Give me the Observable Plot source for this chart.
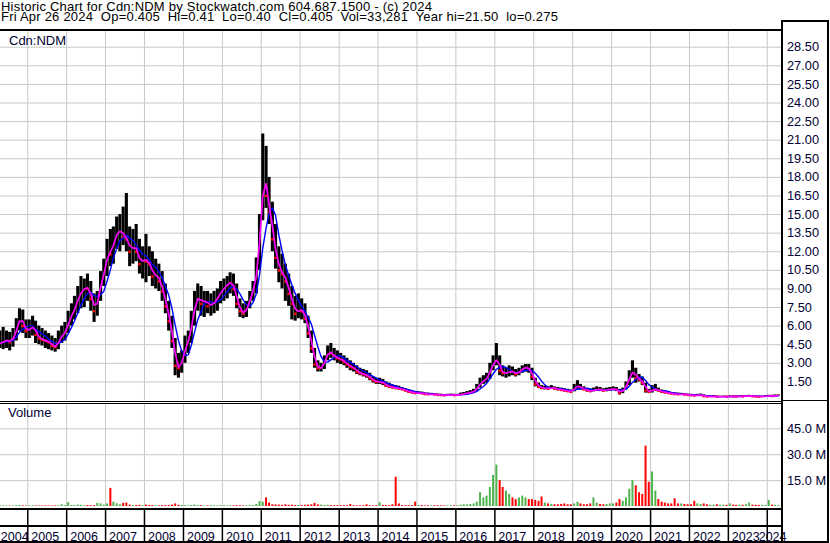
<!DOCTYPE html>
<html><head><meta charset="utf-8">
<script src="https://cdn.jsdelivr.net/npm/d3@7"></script>
<script src="https://cdn.jsdelivr.net/npm/@observablehq/plot@0.6"></script>
<style>
html,body{margin:0;padding:0;background:#fff;}
#c{position:relative;width:830px;height:543px;overflow:hidden;background:#fff;font-family:"Liberation Sans",Arial,sans-serif;}
.ln{position:absolute;background:#000;}
.t{position:absolute;white-space:pre;font-size:13px;line-height:10px;color:#000;}
#c svg{position:absolute;left:0;}
</style></head><body><div id="c"></div>
<script>
// ---- data (monthly, Apr 2004 .. Apr 2024) ----
const firstMonth = [2004, 3]; // Apr 2004 (month index 0-based)
const hi = [
 5.6,
 5.9,5.6,5.5,5.8,6.6,7.4,7.3,6.5,
 6.5,6.8,6.4,6.0,5.8,5.6,5.4,5.2,5.0,5.6,6.0,6.3,
 7.2,7.8,8.4,9.2,10.0,9.8,10.2,9.6,8.6,8.8,10.4,11.4,
 13.0,13.8,14.0,14.8,15.0,15.6,16.7,14.0,13.8,14.2,13.0,12.4,
 13.4,12.4,12.0,11.4,11.0,10.4,9.4,8.0,6.8,5.0,3.8,4.0,
 5.2,5.6,7.2,8.8,9.4,9.2,8.8,8.8,8.6,8.8,9.0,9.6,
 9.8,10.0,10.3,10.2,9.4,8.2,7.8,8.0,8.8,9.6,11.5,15.0,
 21.5,20.5,18.0,16.0,14.2,12.4,11.8,11.0,10.2,9.2,8.4,8.6,
 8.2,7.8,6.8,5.6,4.2,3.2,3.0,3.6,4.4,4.6,4.2,4.0,
 3.8,3.6,3.4,3.2,3.0,2.8,2.6,2.5,2.4,2.2,1.9,1.8,
 1.8,1.7,1.5,1.4,1.25,1.2,1.15,1.05,0.95,0.85,0.75,0.7,
 0.7,0.68,0.62,0.6,0.58,0.56,0.52,0.5,0.48,0.5,0.52,0.5,
 0.5,0.6,0.65,0.72,0.8,0.9,1.3,1.8,2.0,2.2,3.0,3.6,
 4.6,3.6,2.8,2.6,2.8,2.7,2.5,2.6,2.8,2.9,2.9,2.6,
 1.8,1.4,1.2,1.15,1.1,1.2,1.1,1.05,1.0,0.95,0.9,0.85,
 1.3,1.6,1.3,1.1,0.95,0.9,1.0,1.1,1.05,0.95,1.0,1.05,
 1.1,1.05,0.9,1.0,1.5,2.4,3.2,2.6,2.1,1.9,1.4,0.9,
 1.2,1.3,1.0,0.85,0.75,0.72,0.65,0.6,0.6,0.58,0.55,0.5,
 0.5,0.48,0.5,0.52,0.45,0.38,0.36,0.4,0.36,0.35,0.36,0.35,
 0.38,0.38,0.36,0.38,0.38,0.4,0.42,0.4,0.36,0.34,0.36,0.4,
 0.42,0.42,0.45,0.45
];
const lo = [
 4.2,
 4.1,4.2,4.0,4.3,4.8,5.6,5.4,5.0,
 5.0,5.2,4.6,4.5,4.4,4.2,4.1,4.0,3.9,4.1,4.6,4.8,
 5.4,6.0,6.5,7.0,7.4,7.5,8.0,7.2,6.3,6.8,8.0,9.2,
 10.0,10.8,11.0,12.2,12.0,12.5,12.0,10.8,11.0,11.2,10.2,9.8,
 9.5,10.0,9.2,9.0,8.8,8.0,7.0,5.6,4.2,2.0,1.8,2.2,
 3.0,3.8,4.6,6.0,7.2,6.8,6.7,7.0,6.8,7.0,7.2,7.8,
 8.0,8.2,8.6,8.4,7.4,6.7,6.6,6.7,7.4,8.0,8.6,10.5,
 14.5,15.5,14.2,12.0,10.6,9.5,9.0,8.0,7.6,6.5,6.4,6.6,
 6.5,6.2,5.0,3.8,2.6,2.3,2.3,2.5,3.2,3.4,3.2,3.0,
 2.9,2.8,2.6,2.4,2.3,2.1,2.0,1.9,1.8,1.6,1.4,1.3,
 1.3,1.2,1.1,1.0,0.95,0.9,0.85,0.8,0.7,0.6,0.55,0.5,
 0.5,0.5,0.45,0.45,0.42,0.42,0.4,0.38,0.36,0.36,0.38,0.37,
 0.36,0.4,0.45,0.5,0.55,0.6,0.75,1.0,1.3,1.4,1.7,2.4,
 2.8,2.0,1.9,1.8,1.9,2.0,1.9,2.0,2.2,2.3,2.2,1.6,
 1.1,1.0,0.9,0.85,0.85,0.9,0.85,0.8,0.75,0.7,0.65,0.6,
 0.7,0.9,0.85,0.8,0.7,0.65,0.7,0.75,0.75,0.7,0.7,0.75,
 0.8,0.75,0.45,0.55,0.85,1.2,1.8,1.4,1.5,1.2,0.6,0.6,
 0.6,0.75,0.7,0.6,0.55,0.55,0.5,0.48,0.45,0.45,0.42,0.4,
 0.38,0.36,0.36,0.38,0.3,0.28,0.28,0.3,0.28,0.28,0.28,0.28,
 0.29,0.3,0.29,0.3,0.3,0.3,0.32,0.3,0.29,0.275,0.28,0.3,
 0.32,0.33,0.33,0.36
];
const cl = [
 4.6,
 4.8,4.9,4.7,5.2,6.0,6.8,6.0,5.6,
 5.8,6.0,5.3,5.0,4.9,4.8,4.7,4.4,4.3,5.0,5.3,5.6,
 6.6,7.0,7.6,8.5,8.8,9.2,9.0,8.2,7.2,8.4,9.8,10.5,
 12.2,11.8,13.2,13.5,13.8,13.2,13.0,12.0,12.6,12.0,11.0,11.5,
 11.2,11.0,10.0,10.2,9.6,8.8,7.6,6.4,4.8,2.8,2.6,3.4,
 4.6,5.0,6.6,8.0,8.4,7.8,8.2,7.6,7.8,7.9,8.5,8.8,
 9.2,9.4,9.6,9.0,7.8,7.2,7.0,7.6,8.4,9.2,10.8,14.5,
 18.5,16.5,15.2,13.0,11.5,10.5,10.2,9.6,8.6,7.8,7.0,7.4,
 7.2,6.6,5.4,4.2,2.9,2.6,2.6,3.4,4.0,3.8,3.5,3.4,
 3.3,3.1,2.9,2.7,2.6,2.3,2.2,2.1,2.0,1.8,1.6,1.5,
 1.5,1.4,1.2,1.1,1.05,1.0,0.95,0.9,0.8,0.7,0.65,0.6,
 0.6,0.58,0.52,0.5,0.5,0.48,0.45,0.44,0.42,0.44,0.45,0.43,
 0.44,0.5,0.55,0.62,0.65,0.78,1.1,1.5,1.6,1.9,2.6,3.1,
 3.4,2.4,2.2,2.2,2.4,2.3,2.1,2.4,2.6,2.7,2.5,1.9,
 1.3,1.1,1.0,1.0,0.95,1.05,0.95,0.9,0.85,0.8,0.75,0.7,
 1.1,1.2,1.0,0.9,0.8,0.75,0.85,0.9,0.85,0.8,0.85,0.9,
 0.95,0.85,0.6,0.9,1.3,2.1,2.4,1.8,1.7,1.4,0.8,0.7,
 0.9,0.9,0.8,0.7,0.65,0.6,0.55,0.52,0.5,0.5,0.48,0.45,
 0.42,0.4,0.44,0.44,0.35,0.32,0.32,0.34,0.3,0.3,0.32,0.3,
 0.34,0.33,0.32,0.34,0.33,0.36,0.38,0.34,0.32,0.3,0.33,0.36,
 0.38,0.36,0.4,0.405
];
const vol = [ // millions
 0.4,
 0.4,0.3,0.3,0.3,0.5,0.6,0.4,0.3,
 0.4,0.5,0.3,0.3,0.3,0.4,0.3,0.3,0.4,0.5,1.0,0.5,
 2.2,0.6,0.5,0.8,0.7,0.5,0.6,0.5,0.5,1.8,1.5,0.8,
 1.5,10.5,2.5,1.6,1.0,1.8,2.0,0.8,0.6,0.6,0.7,0.5,
 0.8,0.6,0.6,0.5,0.4,0.5,0.5,0.6,0.8,1.5,0.7,0.6,
 0.5,0.4,0.6,0.8,0.6,0.5,0.4,0.4,0.5,0.4,0.4,0.5,
 0.4,0.4,0.5,0.4,0.5,0.4,0.4,0.4,0.5,0.6,1.2,2.8,
 2.5,5.0,2.0,1.0,0.9,0.8,0.7,1.0,0.7,0.8,0.6,0.6,
 0.6,0.7,0.8,1.0,1.8,0.9,0.8,0.6,0.7,0.6,0.5,0.5,
 0.5,0.5,0.5,1.2,0.5,0.4,0.4,0.5,1.0,0.5,0.4,0.4,
 2.2,0.6,0.6,0.5,1.0,17.0,1.5,0.6,0.5,0.5,0.5,2.5,
 0.6,0.5,0.4,0.4,0.4,0.5,0.4,0.4,0.4,0.4,0.5,0.4,
 0.5,0.8,1.0,0.9,1.2,1.5,2.5,8.0,5.0,6.0,11.0,18.0,
 24.0,15.0,11.0,9.0,7.0,5.0,4.0,5.0,6.0,5.0,4.0,4.0,
 3.5,3.0,5.5,2.0,1.5,1.2,1.0,1.0,1.2,1.5,1.0,1.0,
 1.5,2.5,1.5,1.0,1.0,1.5,5.0,2.0,1.2,1.0,1.2,1.5,
 1.5,2.0,4.0,3.0,5.0,10.0,15.0,12.0,8.0,7.0,35.0,14.0,
 20.0,9.0,4.0,2.5,2.0,1.5,1.5,4.5,1.5,1.5,1.2,1.0,
 1.0,3.0,1.5,1.2,1.5,1.0,0.8,0.8,1.0,0.8,0.8,0.7,
 1.5,0.8,0.7,0.8,0.7,1.0,2.0,0.8,0.7,0.6,0.7,0.6,
 3.5,0.8,0.7,0.6
];
const priceTicks = [1.5,3,4.5,6,7.5,9,10.5,12,13.5,15,16.5,18,19.5,21,22.5,24,25.5,27,28.5];
const volTicks = [15,30,45];
const yearLabels = ["2004","2005","2006","2007","2008","2009","2010","2011","2012","2013","2014","2015","2016","2017","2018","2019","2020","2021","2022","2023","2024"];
const headerLine1 = "Historic Chart for Cdn:NDM by Stockwatch.com 604.687.1500 - (c) 2024";
const headerLine2 = "Fri Apr 26 2024  Op=0.405  Hi=0.41  Lo=0.40  Cl=0.405  Vol=33,281  Year hi=21.50  lo=0.275";
const symbolLabel = "Cdn:NDM";
const volumeLabel = "Volume";

// ---- build ----
const data = hi.map((h, i) => ({
  date: new Date(Date.UTC(firstMonth[0], firstMonth[1] + i, 15)),
  hi: h, lo: lo[i], cl: cl[i], op: i ? cl[i - 1] : cl[0], vol: vol[i]
}));
const years = yearLabels.map(y => ({label: y, date: new Date(Date.UTC(+y, 0, 1))}));
const bounds = years.slice(1).map(d => d.date);
const x0 = new Date(Date.UTC(2004, 3, 20)), x1 = new Date(Date.UTC(2024, 4, 23));
const xOpt = {type: "utc", domain: [x0, x1], range: [0, 782], axis: null};
const grid = "#c8c8c8";
const txt = "#000033";
const font = '"Liberation Sans", Arial, sans-serif';
const axisStyle = {fontFamily: font, fontSize: "12.8px", color: txt, background: "transparent", overflow: "hidden"};

const price = Plot.plot({
  width: 830, height: 371, marginTop: 0, marginBottom: 1, marginLeft: 0, marginRight: 48,
  style: axisStyle,
  x: xOpt,
  y: {domain: [0, 29.85], axis: "right", ticks: priceTicks, tickFormat: d => d.toFixed(2), tickSize: 0, tickPadding: 4.5, label: null},
  marks: [
    Plot.ruleY(priceTicks, {stroke: grid, strokeWidth: 1}),
    Plot.ruleX(bounds, {stroke: grid, strokeWidth: 1}),
    Plot.ruleX(data, {x: "date", y1: "lo", y2: "hi", stroke: "#000", strokeWidth: 3.1}),
    Plot.dot(data.filter(d => d.cl < d.op), {x: "date", y: "cl", r: 1.4, symbol: "square", fill: "#ff0000", stroke: null}),
    Plot.lineY(data, Plot.windowY({k: 5, anchor: "end"}, {x: "date", y: "cl", stroke: "#0000ff", strokeWidth: 1.4})),
    Plot.lineY(data, Plot.windowY({k: 2, anchor: "end"}, {x: "date", y: "cl", stroke: "#ff00ff", strokeWidth: 1.7}))
  ]
});

const volume = Plot.plot({
  width: 830, height: 106, marginTop: 0, marginBottom: 3, marginLeft: 0, marginRight: 48,
  style: axisStyle,
  x: xOpt,
  y: {domain: [0, 59.7], axis: "right", ticks: volTicks, tickFormat: d => d.toFixed(1) + " M", tickSize: 0, tickPadding: 4.5, label: null},
  marks: [
    Plot.ruleY(volTicks, {stroke: grid, strokeWidth: 1}),
    Plot.ruleX(bounds, {stroke: grid, strokeWidth: 1}),
    Plot.ruleX(data.filter(d => d.cl >= d.op), {x: "date", y1: 0, y2: "vol", stroke: "#4db34d", strokeWidth: 2}),
    Plot.ruleX(data.filter(d => d.cl < d.op), {x: "date", y1: 0, y2: "vol", stroke: "#ff0000", strokeWidth: 2})
  ]
});

const strip = Plot.plot({
  width: 830, height: 34, marginTop: 0, marginBottom: 0, marginLeft: 0, marginRight: 48,
  style: {fontFamily: font, fontSize: "12.5px", color: txt, background: "transparent", overflow: "visible"},
  x: xOpt,
  marks: [
    Plot.ruleX(bounds, {stroke: "#000", strokeWidth: 1.5}),
    Plot.text(years.slice(0, 1), {x: () => x0, text: "label", textAnchor: "start", dx: 0.3, frameAnchor: "bottom", lineAnchor: "bottom", dy: -3, fill: txt}),
    Plot.text(years.slice(1, -1), {x: "date", text: "label", textAnchor: "start", dx: 3.5, frameAnchor: "bottom", lineAnchor: "bottom", dy: -3, fill: txt}),
    Plot.text(years.slice(-1), {x: () => x1, text: "label", textAnchor: "end", dx: 4, frameAnchor: "bottom", lineAnchor: "bottom", dy: -3, fill: txt})
  ]
});

const c = document.getElementById("c");
function place(el, top) { el.style.top = top + "px"; c.appendChild(el); }
place(price, 30);
place(volume, 403);
place(strip, 509);

function text(s, left, top, color, ls) {
  const d = document.createElement("div");
  d.className = "t"; d.textContent = s;
  d.style.left = left + "px"; d.style.top = top + "px";
  if (color) d.style.color = color;
  if (ls) d.style.letterSpacing = ls + "px";
  c.appendChild(d);
  return d;
}
// header: one text block, two lines
text(headerLine1 + "\n" + headerLine2, 1, 1.6, null, 0.22);
text(symbolLabel, 9, 35.5, txt);
text(volumeLabel, 8, 407.5, txt);

function line(l, t, w, h) {
  const d = document.createElement("div");
  d.className = "ln";
  Object.assign(d.style, {left: l + "px", top: t + "px", width: w + "px", height: h + "px"});
  c.appendChild(d);
}
line(0, 29, 782, 2);      // top of price panel
line(0, 401, 782, 1);     // price bottom
line(0, 403, 782, 1);     // volume top
line(0, 508, 782, 2);     // volume bottom
line(0, 525, 782, 2);     // label row top
line(0, 541, 829, 2);     // bottom
line(781, 20, 2, 523);    // right edge of plot
line(827, 20, 2, 523);    // right column edge
line(781, 20, 48, 2);     // right column top
line(781, 399.5, 48, 1.5);// right column divider
</script></body></html>
